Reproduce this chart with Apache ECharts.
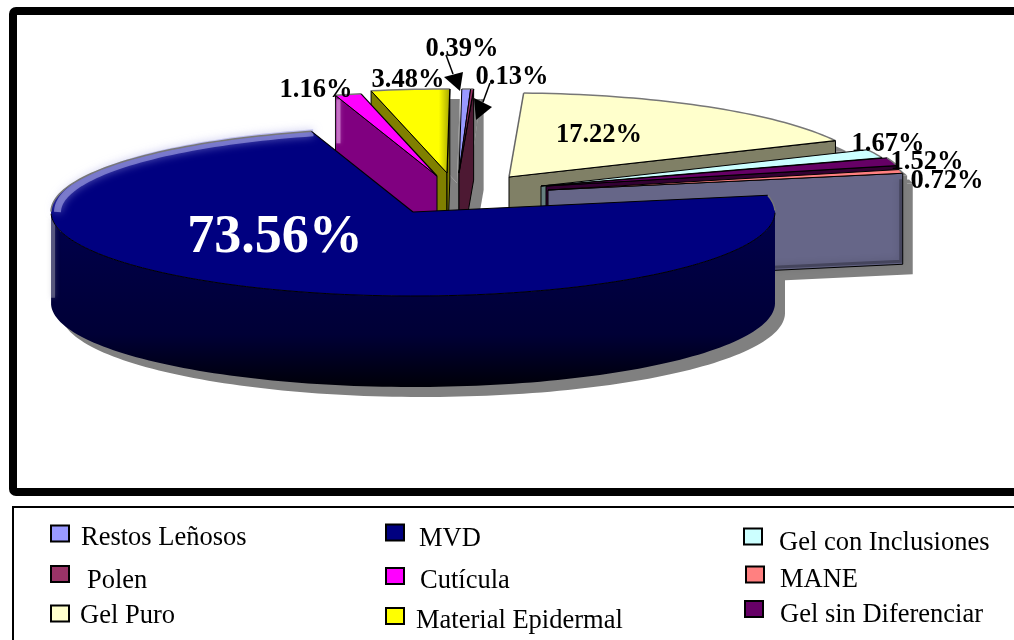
<!DOCTYPE html>
<html><head><meta charset="utf-8">
<style>html,body{margin:0;padding:0;background:#fff}#c{width:1014px;height:640px}</style>
<script src="https://cdn.jsdelivr.net/npm/echarts@6/dist/echarts.min.js"></script>
</head><body><div id="c"></div>
<script>
// ---- data (pie order, clockwise from the right-hand side) ----
const categories = ['MVD','Cutícula','Material Epidermal','Restos Leñosos','Polen','Gel Puro','Gel con Inclusiones','Gel sin Diferenciar','MANE'];
const values = [73.56,1.16,3.48,0.39,0.13,17.22,1.67,1.52,0.72];
const topColors = ['#000080','#FF00FF','#FFFF00','#9999FF','#993366','#FFFFCC','#CCFFFF','#660066','#FF8080'];
const wallColors = ['#000040','#800080','#808000','#4C4C80','#4D1933','#808066','#668080','#330033','#666688'];

// ---- layout / styling ----
const SERIF = '"Liberation Serif","Times New Roman",serif';
const CX = 413, CY = 212, RX = 362, RY = 84, DEPTH = 91, START = 11.5;
const SHADOW = [10, 10];
const explode = {'MVD':[0,0],'Cutícula':[24,-36],'Material Epidermal':[34,-39],'Restos Leñosos':[46,-39],'Polen':[46,-39],
  'Gel Puro':[96,-35],'Gel con Inclusiones':[128,-26],'Gel sin Diferenciar':[133,-26],'MANE':[135,-22]};
const paintOrder = ['Restos Leñosos','Polen','Material Epidermal','Cutícula','Gel Puro','Gel con Inclusiones','Gel sin Diferenciar','MANE','MVD'];
const labelStyle = {'MVD':{p:[275,238],s:54,c:'#fff'},'Cutícula':{p:[316,90]},'Material Epidermal':{p:[408,80]},'Restos Leñosos':{p:[462,49]},
  'Polen':{p:[512,77]},'Gel Puro':{p:[599,135]},'Gel con Inclusiones':{p:[888,144]},'Gel sin Diferenciar':{p:[927,162]},'MANE':{p:[947,181]}};
const leaders = {'Restos Leñosos':{from:[446,55],neck:[453,74],head:[[444,77],[463,72],[460,91]]},
  'Polen':{from:[490,83],neck:[483,102],head:[[474,98],[492,107],[476,120]]}};
const LEGEND_LINE = 30;
const legendStyle = {
  'Restos Leñosos':{x:50,sc:533,tc:536,gap:7},'MVD':{x:385,sc:532,tc:537,gap:10},'Gel con Inclusiones':{x:743,sc:536,tc:541,gap:12},
  'Polen':{x:50,sc:573.5,tc:579,gap:13},'Cutícula':{x:385,sc:575.5,tc:579,gap:11},'MANE':{x:745,sc:574,tc:578,gap:11},
  'Gel Puro':{x:50,sc:613,tc:614,gap:6},'Material Epidermal':{x:385,sc:615.5,tc:619,gap:7},'Gel sin Diferenciar':{x:744,sc:608.5,tc:613,gap:12}};

// ---- geometry from the values ----
const total = values.reduce((a,b)=>a+b,0);
const rad = d => d*Math.PI/180;
const spans = {};
(function(){ let a = START; categories.forEach((c,i)=>{ const sweep = 360*values[i]/total; spans[c]={a0:a,a1:a-sweep}; a-=sweep; }); })();
function rimPoint(o,a,k){ k=k||1; return [CX+o[0]+k*RX*Math.cos(rad(a)), CY+o[1]-k*RY*Math.sin(rad(a))]; }
function arc(o,a0,a1,k){ const n=Math.max(2,Math.ceil(Math.abs(a0-a1)/1.5)); const p=[]; for(let i=0;i<=n;i++) p.push(rimPoint(o,a0+(a1-a0)*i/n,k)); return p; }
function down(p,d){ return p.map(q=>[q[0],q[1]+d]); }
function poly(points,fill,extra){ return Object.assign({type:'polygon',shape:{points},style:{fill,stroke:null}},extra||{}); }
function pline(points,stroke,w,extra){ return {type:'polyline',shape:{points},style:Object.assign({fill:null,stroke,lineWidth:w},extra||{})}; }
function wallPieces(o,a0,a1){
  const apex=[CX+o[0],CY+o[1]];
  const out={radial:[],rim:null,front:[]};
  if(Math.cos(rad(a0))<0){ const r=rimPoint(o,a0); out.radial.push([apex,r,[r[0],r[1]+DEPTH],[apex[0],apex[1]+DEPTH]]); }
  if(Math.cos(rad(a1))>0){ const r=rimPoint(o,a1); out.radial.push([apex,r,[r[0],r[1]+DEPTH],[apex[0],apex[1]+DEPTH]]); }
  const front=arc(o,a0,a1).filter(q=>q[1]>=apex[1]-0.01);
  if(front.length>1){ out.rim=front.concat(down(front,DEPTH).reverse()); out.front=front; }
  return out;
}
function renderSlice(name,value){
  const i=categories.indexOf(name), o=explode[name], {a0,a1}=spans[name];
  const apex=[CX+o[0],CY+o[1]], rim=arc(o,a0,a1), kids=[];
  const w=wallPieces(o,a0,a1), wc=wallColors[i];
  w.radial.forEach(q=>{
    kids.push(poly(q,wc));
    kids.push(pline(q.concat([q[0]]),'#000',1));
    if(name==='MANE'){
      kids.push(pline([[q[1][0]-2,q[1][1]+6],[q[2][0]-2,q[2][1]-3],[q[2][0]-130,q[2][1]+3]],'rgba(0,0,0,.28)',3,{shadowBlur:7,shadowColor:'rgba(0,0,0,.6)'}));
    }
    if(name==='Cutícula'){
      kids.push(pline([[q[1][0]+3,q[1][1]+4],[q[1][0]+3,q[1][1]+48]],'rgba(255,210,255,.45)',4,{shadowBlur:4,shadowColor:'rgba(255,210,255,.6)'}));
    }
  });
  if(w.rim){
    kids.push(poly(w.rim,new echarts.graphic.LinearGradient(0,0,0,1,[{offset:0,color:'#00004c'},{offset:.7,color:'#000036'},{offset:1,color:'#000008'}])));
    const f=w.front, e=f[f.length-1];
    kids.push(pline([[e[0]+2,e[1]+4],[e[0]+2,e[1]+84]],'rgba(150,150,170,.5)',4,{shadowBlur:5,shadowColor:'rgba(150,150,170,.6)'}));
  }
  const fill = name==='Material Epidermal'
    ? new echarts.graphic.LinearGradient(0,0,1,0,[{offset:0,color:'#FFFF00'},{offset:.86,color:'#FFFF00'},{offset:1,color:'#A8A800'}])
    : topColors[i];
  kids.push(poly([apex].concat(rim),fill));
  // far rim only: the part of the arc above the centre line, taken piece by piece
  const parts=[]; let cur=[];
  rim.forEach(q=>{ if(q[1]<apex[1]+0.01){cur.push(q);} else { if(cur.length>1) parts.push(cur); cur=[]; } });
  if(cur.length>1) parts.push(cur);
  if(name==='MVD'){
    kids.push(pline(arc(o,-180,a1,0.982),'rgba(165,165,230,.62)',7,{shadowBlur:8,shadowColor:'rgba(165,165,230,.9)'}));
    kids.push(pline(w.front,'#000',1));
  }
  parts.forEach(p=>kids.push(pline(p,'#777',1.5)));
  kids.push(pline([apex,rim[0]],name==='Gel Puro'?'#666':'#000',name==='Gel Puro'?1.5:1));
  kids.push(pline([apex,rim[rim.length-1]],'#000',1.2));
  const ls=labelStyle[name];
  kids.push({type:'text',z2:100,style:{text:value.toFixed(2)+'%',x:ls.p[0],y:ls.p[1],align:'center',verticalAlign:'middle',
    fontFamily:SERIF,fontWeight:'bold',fontSize:ls.s||26.5,fill:ls.c||'#000'}});
  const L=leaders[name];
  if(L){
    kids.push({type:'polyline',z2:99,shape:{points:[L.from,L.neck]},style:{fill:null,stroke:'#000',lineWidth:1.5}});
    kids.push({type:'polygon',z2:99,shape:{points:L.head},style:{fill:'#000'}});
  }
  return {type:'group',children:kids};
}
function renderShadow(params,api){
  const name=categories[api.value(1)], o0=explode[name], o=[o0[0]+SHADOW[0],o0[1]+SHADOW[1]], {a0,a1}=spans[name];
  const kids=[]; const apex=[CX+o[0],CY+o[1]];
  const rim=arc(o,a0,a1);
  const w=wallPieces(o,a0,a1);
  kids.push(poly([apex].concat(rim),'#808080'));
  w.radial.forEach(q=>kids.push(poly(q,'#808080')));
  if(w.rim) kids.push(poly(w.rim,'#808080'));
  return {type:'group',children:kids};
}

const series=[{type:'custom',name:'sombra',coordinateSystem:'none',silent:true,animation:false,clip:false,
  data:values.map((v,i)=>[v,i]),renderItem:renderShadow}];
paintOrder.forEach(name=>{
  const i=categories.indexOf(name);
  series.push({type:'custom',name,coordinateSystem:'none',silent:true,animation:false,clip:false,
    itemStyle:{color:topColors[i]},data:[[values[i]]],
    renderItem:(params,api)=>renderSlice(name,api.value(0))});
});
const legend=categories.map((name,i)=>{
  const s=legendStyle[name], dy=s.tc-s.sc+2;
  return {show:true,left:s.x,top:s.sc-LEGEND_LINE/2-dy+2,orient:'horizontal',padding:0,itemWidth:18,itemHeight:16,selectedMode:false,
    formatter:'{t|{name}}',
    data:[{name,icon:'rect',itemStyle:{color:topColors[i],borderColor:'#000',borderWidth:2}}],
    textStyle:{rich:{t:{fontFamily:SERIF,fontSize:26.5,color:'#000',lineHeight:LEGEND_LINE,padding:[dy*2,0,0,s.gap]}}}};
});
const chart=echarts.init(document.getElementById('c'),null,{renderer:'canvas'});
chart.setOption({
  animation:false,backgroundColor:'#fff',legend,series,
  graphic:[
    {type:'rect',z:0,shape:{x:13,y:11,width:1040,height:481,r:3},style:{fill:null,stroke:'#000',lineWidth:8}},
    {type:'rect',z:0,shape:{x:13,y:507,width:1040,height:160},style:{fill:null,stroke:'#000',lineWidth:2}}
  ]
});
</script></body></html>
